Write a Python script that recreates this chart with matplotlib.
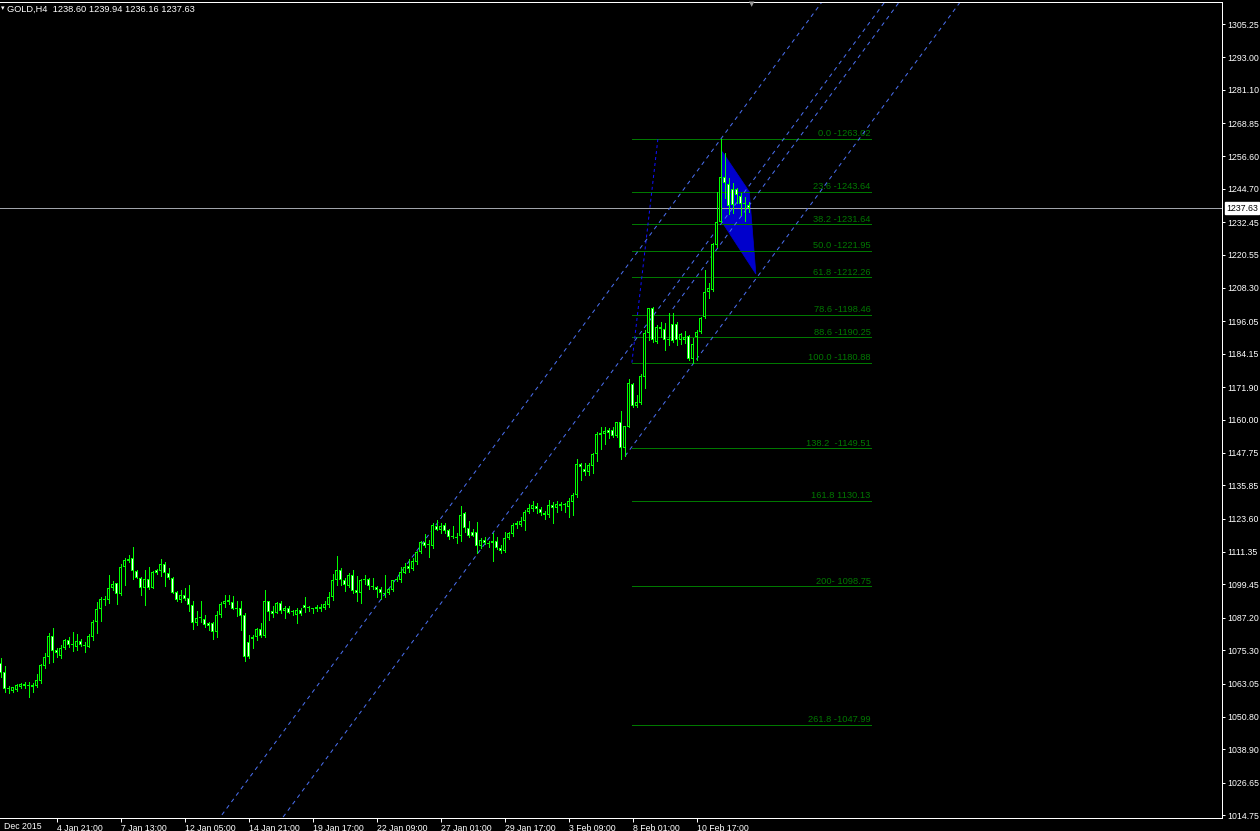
import numpy as np
import matplotlib
matplotlib.use("Agg")
import matplotlib.pyplot as plt
import matplotlib.transforms as mtransforms
from matplotlib.patches import Polygon

# GOLD H4 candles (open, high, low, close), oldest first
opens = [1070.46, 1067.15, 1061.28, 1060.42, 1060.67, 1061.89, 1063.00, 1062.38, 1061.89, 1062.26,
         1064.09, 1069.60, 1072.66, 1080.50, 1075.36, 1073.27, 1075.97, 1079.03, 1077.44, 1076.58,
         1078.78, 1077.07, 1076.58, 1080.25, 1085.51, 1090.29, 1093.84, 1093.72, 1098.25, 1099.84,
         1095.80, 1105.71, 1108.04, 1109.02, 1104.49, 1101.92, 1098.00, 1101.31, 1098.25, 1104.61,
         1104.49, 1106.94, 1103.75, 1101.67, 1096.78, 1093.72, 1095.55, 1094.33, 1091.76, 1085.39,
         1086.98, 1086.62, 1085.27, 1085.15, 1082.09, 1088.08, 1092.12, 1092.86, 1092.98, 1090.78,
         1090.66, 1088.21, 1078.17, 1079.27, 1080.01, 1082.94, 1080.50, 1093.35, 1089.68, 1089.06,
         1092.49, 1089.68, 1090.66, 1089.43, 1088.33, 1090.04, 1091.88, 1090.66, 1090.29, 1090.41,
         1090.29, 1090.78, 1091.89, 1094.70, 1101.07, 1104.74, 1101.07, 1098.99, 1102.90, 1097.39,
         1096.42, 1101.07, 1101.31, 1098.99, 1098.62, 1097.64, 1096.42, 1096.17, 1097.39, 1101.07,
         1101.07, 1103.76, 1106.21, 1104.98, 1107.80, 1111.23, 1115.14, 1114.04, 1113.67, 1121.02,
         1119.43, 1121.26, 1119.43, 1117.10, 1116.86, 1117.35, 1125.79, 1120.29, 1118.82, 1118.69,
         1113.55, 1115.76, 1114.66, 1114.53, 1115.39, 1112.70, 1111.84, 1116.37, 1117.96, 1121.26,
         1121.26, 1122.86, 1126.16, 1127.14, 1128.24, 1127.14, 1125.79, 1124.94, 1128.61, 1127.38,
         1128.24, 1128.73, 1128.00, 1129.83, 1132.28, 1143.66, 1141.83, 1140.85, 1143.05, 1147.21,
         1154.31, 1154.56, 1156.15, 1156.15, 1154.07, 1158.96, 1149.42, 1157.37, 1173.04, 1165.08,
         1165.94, 1175.73, 1191.65, 1200.83, 1188.59, 1194.10, 1193.12, 1189.57, 1195.07, 1195.07,
         1189.20, 1189.20, 1190.67, 1182.10, 1190.42, 1192.02, 1197.52, 1206.95, 1207.56, 1224.09,
         1232.65, 1248.93, 1246.49, 1244.53, 1244.53, 1242.08, 1239.39, 1238.60]
highs = [1072.29, 1069.48, 1062.13, 1061.89, 1062.87, 1063.36, 1063.73, 1063.60, 1063.11, 1066.42,
         1070.21, 1074.13, 1081.47, 1083.43, 1075.97, 1077.07, 1079.52, 1080.01, 1082.09, 1081.11,
         1079.39, 1078.29, 1081.11, 1086.37, 1092.98, 1094.82, 1095.19, 1102.90, 1100.57, 1100.08,
         1106.94, 1109.02, 1110.24, 1113.06, 1104.73, 1102.04, 1104.73, 1105.71, 1104.37, 1104.98,
         1108.77, 1107.67, 1105.59, 1102.04, 1097.14, 1097.39, 1098.00, 1099.22, 1093.35, 1089.68,
         1093.35, 1088.21, 1085.76, 1085.51, 1089.68, 1092.98, 1095.55, 1095.55, 1095.19, 1093.35,
         1093.35, 1088.82, 1080.86, 1080.86, 1083.56, 1085.15, 1097.39, 1093.47, 1091.51, 1092.98,
         1093.35, 1091.51, 1091.51, 1090.04, 1090.90, 1090.66, 1094.94, 1091.51, 1090.90, 1091.88,
         1092.25, 1093.48, 1096.78, 1103.27, 1109.88, 1105.35, 1101.68, 1103.52, 1104.74, 1102.54,
         1101.43, 1102.90, 1101.92, 1101.68, 1098.86, 1098.37, 1102.90, 1098.25, 1101.20, 1102.29,
         1105.72, 1107.43, 1108.66, 1109.02, 1111.84, 1115.51, 1117.96, 1115.76, 1121.88, 1123.10,
         1121.88, 1121.88, 1119.67, 1120.90, 1118.20, 1128.24, 1126.16, 1122.86, 1119.67, 1122.49,
         1116.37, 1116.98, 1115.51, 1118.45, 1116.74, 1113.92, 1118.82, 1118.82, 1122.12, 1122.86,
         1124.32, 1126.77, 1128.85, 1130.20, 1129.22, 1128.00, 1126.53, 1130.45, 1129.59, 1130.20,
         1129.83, 1129.47, 1131.06, 1133.14, 1145.38, 1144.15, 1143.91, 1143.91, 1147.82, 1155.54,
         1157.37, 1157.37, 1156.76, 1157.37, 1159.21, 1163.25, 1157.80, 1174.75, 1173.29, 1169.00,
         1176.71, 1192.87, 1201.07, 1201.20, 1194.71, 1195.93, 1195.32, 1198.99, 1198.99, 1195.93,
         1191.65, 1192.63, 1191.04, 1189.81, 1192.87, 1197.77, 1214.90, 1210.01, 1224.70, 1243.67,
         1263.02, 1257.75, 1248.57, 1246.73, 1244.90, 1243.30, 1241.59, 1239.94]
lows = [1065.56, 1060.05, 1059.44, 1060.05, 1060.42, 1061.52, 1061.52, 1057.97, 1060.05, 1061.64,
        1063.36, 1068.62, 1070.46, 1071.07, 1072.91, 1072.54, 1075.60, 1076.33, 1075.11, 1075.36,
        1076.82, 1074.74, 1076.46, 1079.03, 1081.72, 1086.13, 1091.88, 1092.49, 1097.39, 1092.25,
        1095.67, 1099.22, 1107.79, 1101.31, 1101.67, 1095.55, 1091.88, 1097.88, 1098.12, 1103.26,
        1102.53, 1098.86, 1101.31, 1096.16, 1093.35, 1093.11, 1093.72, 1089.80, 1083.19, 1084.41,
        1085.76, 1083.92, 1082.70, 1079.52, 1080.25, 1087.60, 1091.27, 1092.25, 1090.41, 1087.84,
        1082.70, 1071.44, 1072.29, 1076.21, 1079.03, 1080.25, 1080.25, 1086.37, 1087.60, 1088.82,
        1088.82, 1087.23, 1088.82, 1088.21, 1085.39, 1088.21, 1089.43, 1089.55, 1089.06, 1089.80,
        1089.80, 1090.29, 1091.27, 1093.72, 1099.23, 1099.23, 1097.15, 1098.62, 1096.17, 1093.48,
        1092.50, 1099.60, 1097.76, 1097.64, 1094.95, 1093.97, 1094.95, 1095.93, 1097.15, 1100.82,
        1100.45, 1103.52, 1104.00, 1104.74, 1106.94, 1111.10, 1113.31, 1109.64, 1112.70, 1119.31,
        1118.20, 1118.45, 1116.12, 1116.37, 1114.78, 1115.51, 1118.82, 1116.98, 1117.23, 1111.10,
        1112.94, 1114.29, 1113.31, 1108.17, 1112.33, 1110.86, 1111.47, 1116.00, 1117.23, 1120.04,
        1120.90, 1119.43, 1125.55, 1126.53, 1125.55, 1124.94, 1123.35, 1124.32, 1122.12, 1126.16,
        1126.77, 1126.16, 1124.32, 1124.94, 1131.67, 1137.79, 1139.62, 1139.62, 1140.48, 1144.89,
        1149.05, 1151.01, 1153.09, 1153.70, 1153.70, 1145.38, 1146.60, 1157.20, 1164.72, 1164.72,
        1165.70, 1171.69, 1189.20, 1188.59, 1187.98, 1190.42, 1185.53, 1187.36, 1188.59, 1187.36,
        1187.73, 1188.22, 1181.86, 1180.88, 1181.86, 1191.65, 1197.15, 1204.50, 1207.32, 1223.47,
        1232.53, 1241.22, 1235.47, 1235.96, 1239.39, 1235.10, 1233.02, 1236.16]
closes = [1067.03, 1060.91, 1061.16, 1061.64, 1062.50, 1063.00, 1062.13, 1062.30, 1062.62, 1064.34,
          1069.85, 1072.91, 1080.50, 1075.11, 1074.13, 1076.09, 1079.15, 1077.31, 1077.19, 1078.54,
          1077.19, 1076.82, 1080.50, 1085.64, 1090.29, 1093.96, 1093.59, 1098.25, 1099.59, 1095.80,
          1105.71, 1108.41, 1108.65, 1104.49, 1101.92, 1098.00, 1101.31, 1098.25, 1104.12, 1103.63,
          1106.94, 1103.75, 1101.67, 1096.41, 1093.72, 1095.55, 1094.08, 1091.76, 1085.39, 1087.11,
          1087.23, 1084.41, 1084.17, 1082.09, 1088.08, 1092.12, 1093.35, 1093.72, 1090.53, 1090.53,
          1087.84, 1072.91, 1072.91, 1080.13, 1082.94, 1080.62, 1093.35, 1089.43, 1088.70, 1092.74,
          1089.68, 1090.78, 1089.06, 1089.19, 1090.04, 1088.57, 1090.66, 1091.27, 1090.66, 1091.27,
          1091.27, 1092.25, 1094.70, 1101.07, 1104.74, 1101.07, 1099.23, 1102.90, 1097.15, 1096.42,
          1101.07, 1101.43, 1098.99, 1098.37, 1097.39, 1096.17, 1095.93, 1097.76, 1101.07, 1101.43,
          1103.88, 1105.96, 1104.98, 1108.04, 1111.47, 1115.14, 1113.67, 1113.80, 1121.26, 1119.43,
          1121.02, 1119.06, 1116.98, 1116.86, 1116.61, 1124.94, 1120.04, 1117.35, 1117.35, 1113.55,
          1115.76, 1114.53, 1114.41, 1115.39, 1112.70, 1111.72, 1116.37, 1118.20, 1121.26, 1121.88,
          1122.73, 1126.16, 1127.38, 1128.49, 1127.02, 1125.55, 1124.94, 1128.61, 1127.38, 1128.98,
          1128.98, 1128.49, 1130.08, 1132.28, 1143.66, 1142.44, 1140.85, 1143.30, 1147.33, 1154.68,
          1154.92, 1155.78, 1155.17, 1154.07, 1158.96, 1149.66, 1157.62, 1173.29, 1165.08, 1166.31,
          1175.98, 1191.65, 1200.83, 1189.20, 1194.10, 1193.12, 1189.20, 1189.32, 1188.95, 1189.20,
          1191.28, 1190.42, 1182.10, 1187.73, 1192.26, 1197.15, 1206.95, 1208.42, 1224.45, 1232.65,
          1248.93, 1246.73, 1238.41, 1238.78, 1242.45, 1239.14, 1239.02, 1237.63]

# bottom time axis: bar index of each label and its text
time_ticks = [14, 30, 46, 62, 78, 94, 110, 126, 142, 158, 174]
time_labels = ["4 Jan 21:00", "7 Jan 13:00", "12 Jan 05:00", "14 Jan 21:00", "19 Jan 17:00",
               "22 Jan 09:00", "27 Jan 01:00", "29 Jan 17:00", "3 Feb 09:00", "8 Feb 01:00",
               "10 Feb 17:00"]

# right price axis labels
price_ticks = [1305.25, 1293.00, 1281.10, 1268.85, 1256.60, 1244.70, 1232.45, 1220.55, 1208.30,
               1196.05, 1184.15, 1171.90, 1160.00, 1147.75, 1135.85, 1123.60, 1111.35, 1099.45,
               1087.20, 1075.30, 1063.05, 1050.80, 1038.90, 1026.65, 1014.75]

# fibonacci object (anchored between bar 157.8 and 164.3, drawn to bar 217.6)
fib_levels = [1263.02, 1243.64, 1231.64, 1221.95, 1212.26, 1198.46, 1190.25, 1180.88,
              1149.51, 1130.13, 1098.75, 1047.99]
fib_texts = ["0.0 -1263.02", "23.6 -1243.64", "38.2 -1231.64", "50.0 -1221.95", "61.8 -1212.26",
             "78.6 -1198.46", "88.6 -1190.25", "100.0 -1180.88", "138.2  -1149.51",
             "161.8 1130.13", "200- 1098.75", "261.8 -1047.99"]
fib_x = [157.8, 217.6]
fib_anchor_x = [157.8, 164.3]
fib_anchor_y = [1180.88, 1263.02]

# parallel channel lines: (start bar, start price), slope in price per bar
channel_starts = [(55.3, 1014.8), (70.6, 1014.0), (156.1, 1146.6), (168.0, 1200.6)]
channel_slope = 1.99

# filled triangle area (bar, price)
tri_x = [180.4, 187.15, 188.8, 180.0]
tri_y = [1258.35, 1243.66, 1213.44, 1233.27]

last_price = 1237.63
header = "GOLD,H4  1238.60 1239.94 1236.16 1237.63"

W, H = 1260, 831
FONT = "Liberation Sans"
GREEN = "#00ff00"
FIBC = "#007800"
CHAN = "#4a6ff0"
PX = 0.72  # one pixel in points
AXFS = 6.3

fig = plt.figure(figsize=(W / 100, H / 100), dpi=100, facecolor="black")
ax = fig.add_axes([0, 13 / H, 1222 / W, 816 / H], facecolor="black")
ax.set_xlim(-0.175, 305.33)
ax.set_ylim(1013.66, 1313.33)

# price units per screen pixel (for the 1px body outline)
ppx = (1313.33 - 1013.66) / 816

x = np.arange(len(closes))
o = np.array(opens)
c = np.array(closes)

# triangle behind candles
ax.add_patch(Polygon(np.column_stack([tri_x, tri_y]), closed=True, facecolor="#0000cc",
                     edgecolor="#0000cc", lw=0.5, zorder=1))

# current price line
ax.axhline(last_price, color="#a0a4aa", lw=PX, zorder=1.5, antialiased=False)

# fibonacci levels
ax.hlines(fib_levels, fib_x[0], fib_x[1], colors=FIBC, lw=PX, zorder=2, antialiased=False)
for lvl, txt in zip(fib_levels, fib_texts):
    ax.annotate(txt, (fib_x[1], lvl), xytext=(-0.5, 2.5), textcoords="offset pixels",
                ha="right", va="baseline", color=FIBC, fontsize=6.7, family=FONT, zorder=2)
ax.plot(fib_anchor_x, fib_anchor_y, color="#1010ff", lw=PX, ls=(0, (3, 3)), zorder=2)

# channel lines, drawn out past the top of the chart
for sx, sy in channel_starts:
    ax.plot([sx, sx + 200], [sy, sy + channel_slope * 200], color=CHAN, lw=PX,
            ls=(0, (4, 4)), zorder=2.5)

# candles: wick, green body block, then a 1px fill inside it
ax.vlines(x, lows, highs, colors=GREEN, lw=PX, zorder=3, antialiased=False)
body_lo = np.minimum(o, c)
body_h = np.maximum(np.abs(c - o), ppx)
ax.bar(x, body_h, bottom=body_lo, width=0.75, color=GREEN, linewidth=0, zorder=3.5,
       antialiased=False)
inner = body_h > 2.5 * ppx
fills = np.where(c >= o, "black", "white")
ax.bar(x[inner], body_h[inner] - 2 * ppx, bottom=body_lo[inner] + ppx, width=0.25,
       color=fills[inner], linewidth=0, zorder=4, antialiased=False)

# frame
for side in ["top", "right", "bottom"]:
    ax.spines[side].set_color("white")
    ax.spines[side].set_linewidth(PX)
ax.spines["left"].set_visible(False)

ax.yaxis.tick_right()
ax.set_yticks(price_ticks)
ax.set_yticklabels([f"{p:.2f}" for p in price_ticks])
ax.tick_params(axis="y", colors="white", labelcolor="white", length=2, width=PX,
               direction="out", pad=1.5, labelsize=AXFS)
ax.set_xticks(time_ticks)
ax.set_xticklabels(time_labels)
ax.tick_params(axis="x", colors="white", labelcolor="white", length=3, width=PX,
               direction="out", pad=1, labelsize=AXFS)
for lbl in ax.get_xticklabels():
    lbl.set_horizontalalignment("left")
    lbl.set_family(FONT)
for lbl in ax.get_yticklabels():
    lbl.set_family(FONT)

ax.text(0.003, -0.005, "Dec 2015", transform=ax.transAxes, ha="left", va="top",
        color="white", fontsize=AXFS, family=FONT)

# last price tag on the scale
trans = mtransforms.blended_transform_factory(ax.transAxes, ax.transData)
ax.text(1.0035, last_price, f"{last_price:.2f}", transform=trans, ha="left", va="center",
        color="black", fontsize=AXFS, family=FONT, clip_on=False, zorder=6,
        bbox=dict(boxstyle="square,pad=0.15", facecolor="white", edgecolor="white"))

# header and small markers
fig.text(7 / W, 1 - 9 / H, header, color="white", fontsize=6.7, family=FONT,
         ha="left", va="center")
fig.text(1 / W, 1 - 8 / H, "\u25be", color="white", fontsize=5, ha="left", va="center",
         family="DejaVu Sans")
fig.text(752 / W, 1 - 4 / H, "\u25bc", color="#9a9a9a", fontsize=5, ha="center", va="center",
         family="DejaVu Sans")

fig.savefig("out.png", dpi=100, facecolor="black")
